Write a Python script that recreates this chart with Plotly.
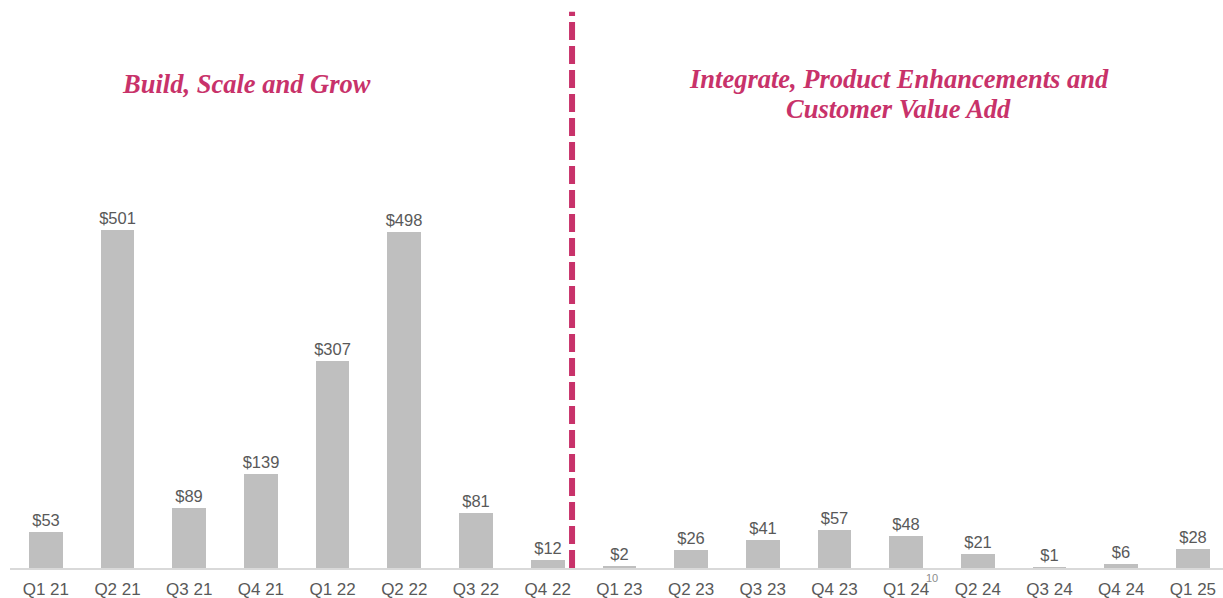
import plotly.graph_objects as go

categories = ["Q1 21", "Q2 21", "Q3 21", "Q4 21", "Q1 22", "Q2 22", "Q3 22", "Q4 22",
              "Q1 23", "Q2 23", "Q3 23", "Q4 23", "Q1 24", "Q2 24", "Q3 24", "Q4 24", "Q1 25"]
values = [53, 501, 89, 139, 307, 498, 81, 12, 2, 26, 41, 57, 48, 21, 1, 6, 28]

left_title = "Build, Scale and Grow"
right_title_lines = ["Integrate, Product Enhancements and", "Customer Value Add"]
page_number = "10"

accent = "#C8326A"
grey_text = "#595959"

xs = list(range(len(categories)))

fig = go.Figure()
fig.add_trace(go.Bar(
    x=xs, y=values, width=0.47,
    marker=dict(color="#BFBFBF", line=dict(width=0)),
    text=[f"${v}" for v in values], textposition="outside", constraintext="none",
    textfont=dict(family="Liberation Sans, Arial, sans-serif", size=16.5, color=grey_text),
    cliponaxis=False, hoverinfo="skip",
))

# divider line between periods
fig.add_shape(type="line", xref="x", yref="paper", x0=7.34, x1=7.34, y0=0, y1=0.997,
              line=dict(color=accent, width=6, dash="18px,6px"))

plot_h = 598 - 10 - 30
def py(pix):
    return (568 - pix) / plot_h

title_font = dict(family="Liberation Serif, Times New Roman, serif", size=26.5, color=accent,
                  weight="bold", style="italic")
fig.add_annotation(x=2.8, y=py(84), xref="x", yref="paper", yanchor="middle",
                   text=left_title, showarrow=False, font=title_font)
for i, line in enumerate(right_title_lines):
    fig.add_annotation(x=11.9, y=py(79 + 30 * i), xref="x", yref="paper", yanchor="middle",
                       text=line, showarrow=False, font=title_font)
fig.add_annotation(x=12.36, y=py(578), xref="x", yref="paper", yanchor="middle",
                   text=page_number, showarrow=False,
                   font=dict(family="Liberation Sans, Arial, sans-serif", size=11, color="#8C8C8C"))

fig.update_layout(
    width=1223, height=598,
    margin=dict(l=10, r=0, t=10, b=30),
    plot_bgcolor="white", paper_bgcolor="white",
    showlegend=False,
    bargap=0,
    xaxis=dict(range=[-0.5, 16.42], tickvals=xs, ticktext=categories, showgrid=False,
               zeroline=False, showline=True, linecolor="#D9D9D9", linewidth=1.5, ticks="",
               ticklabelstandoff=5,
               tickfont=dict(family="Liberation Sans, Arial, sans-serif", size=17, color=grey_text)),
    yaxis=dict(range=[0, 827], visible=False, showgrid=False),
)

fig.write_html("out.html")
